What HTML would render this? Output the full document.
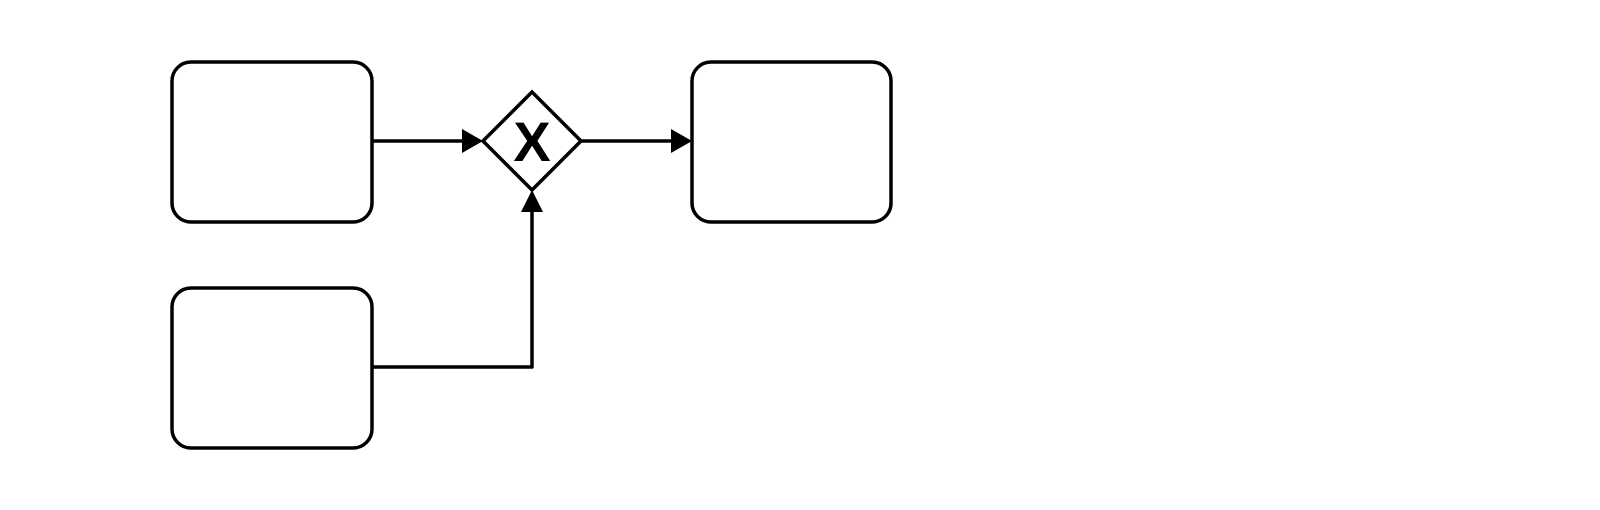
<!DOCTYPE html>
<html><head><meta charset="utf-8"><style>
html,body{margin:0;padding:0;background:#fff;width:1600px;height:510px;overflow:hidden}
</style></head><body>
<svg width="1600" height="510" viewBox="0 0 1600 510">
<g fill="none" stroke="#000" stroke-width="3.5">
<rect x="172" y="62" width="200" height="160" rx="19"/>
<rect x="172" y="288" width="200" height="160" rx="19"/>
<rect x="692" y="62" width="199" height="160" rx="19"/>
<polygon points="532,92 581,141 532,190 483,141"/>
<polyline points="372,141 465,141"/>
<polyline points="581,141 675,141"/>
<polyline points="372,367 532,367 532,209" stroke-linejoin="round"/>
</g>
<g fill="#000">
<polygon points="462,129 483,141 462,153"/>
<polygon points="671,129 692,141 671,153"/>
<polygon points="521,212 532,190 543,212"/>
</g>
<text x="532" y="161" text-anchor="middle" font-family="Liberation Sans, sans-serif" font-weight="bold" font-size="56">X</text>
</svg>
</body></html>
